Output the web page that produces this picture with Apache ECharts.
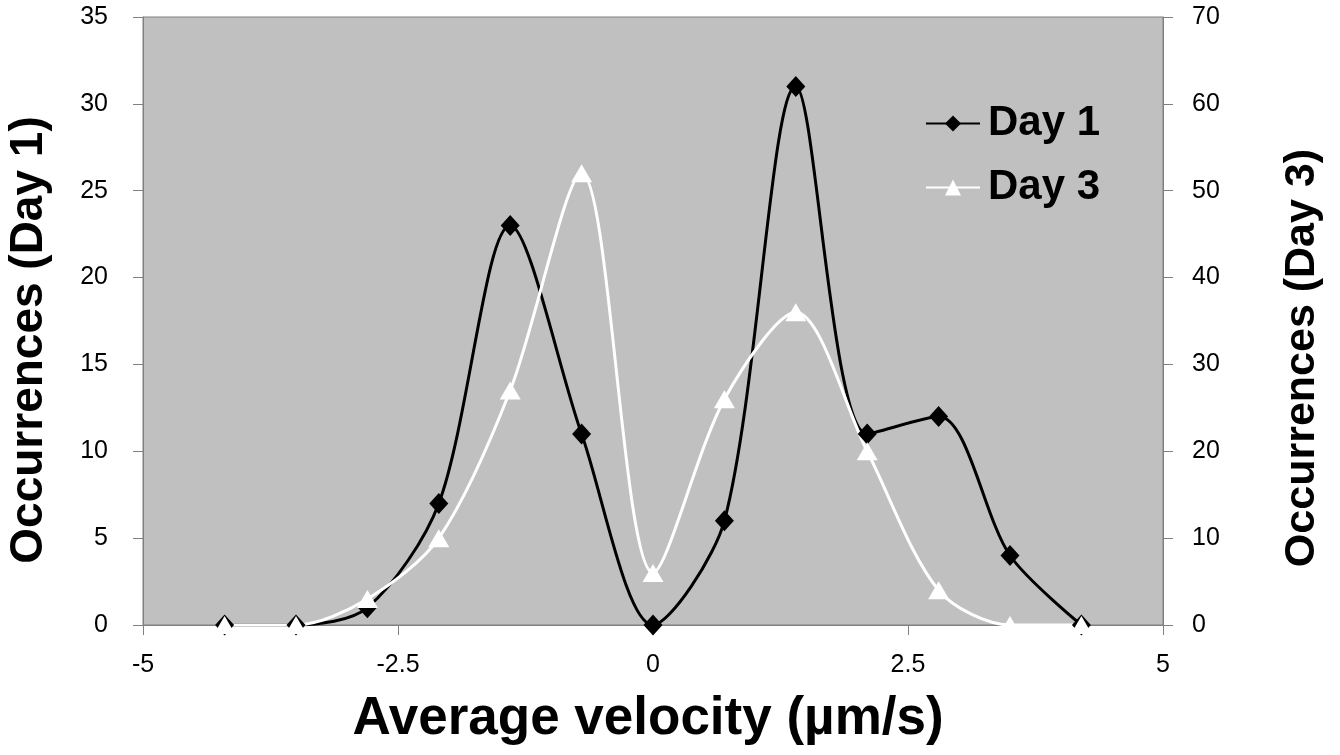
<!DOCTYPE html>
<html><head><meta charset="utf-8">
<script src="https://cdn.jsdelivr.net/npm/echarts@6/dist/echarts.min.js"></script>
<style>html,body{margin:0;padding:0;background:#fff}#c{width:1340px;height:755px}</style>
</head><body><div id="c"></div>
<script>
const velocities = [-4.2, -3.5, -2.8, -2.1, -1.4, -0.7, 0, 0.7, 1.4, 2.1, 2.8, 3.5, 4.2];
const day1 = [0, 0, 1, 7, 23, 11, 0, 6, 31, 11, 12, 4, 0];
const day3 = [0, 0, 3, 10, 27, 52, 6, 26, 36, 20, 4, 0, 0];
const xTicks = [-5, -2.5, 0, 2.5, 5];
const xTitle = 'Average velocity (µm/s)';
const yLeftTitle = 'Occurrences (Day 1)';
const yRightTitle = 'Occurrences (Day 3)';

const font = 'Liberation Sans, Arial, sans-serif';
const chart = echarts.init(document.getElementById('c'));
const tickStyle = { show: true, length: 10, lineStyle: { color: '#808080', width: 1 } };
chart.setOption({
  animation: false,
  backgroundColor: '#fff',
  grid: { left: 143, right: 177, top: 17, bottom: 130, show: true, backgroundColor: '#c0c0c0', borderColor: '#808080', borderWidth: 1 },
  legend: {
    orient: 'vertical', left: 920, top: 96, itemWidth: 54, itemHeight: 20, itemGap: 19,
    textStyle: { fontFamily: font, fontWeight: 'bold', fontSize: 42, color: '#000', lineHeight: 45, padding: [0, 0, 0, 3] },
    data: ['Day 1', 'Day 3']
  },
  graphic: [
    { type: 'text', x: 29, y: 340, rotation: Math.PI / 2,
      style: { text: yLeftTitle, font: 'bold 46px ' + font, fill: '#000', align: 'center', verticalAlign: 'middle' } },
    { type: 'text', x: 1302, y: 358, rotation: Math.PI / 2,
      style: { text: yRightTitle, font: 'bold 43px ' + font, fill: '#000', align: 'center', verticalAlign: 'middle' } },
    { type: 'text', x: 648, y: 719,
      style: { text: xTitle, font: 'bold 53px ' + font, fill: '#000', align: 'center', verticalAlign: 'middle' } }
  ],
  xAxis: {
    type: 'value', min: -5, max: 5, interval: 2.5,
    axisLine: { onZero: false, lineStyle: { color: '#808080', width: 1 } },
    axisTick: tickStyle,
    axisLabel: { fontFamily: font, fontSize: 25, color: '#000', margin: 28,
      formatter: v => xTicks.includes(v) ? String(v) : '' },
    splitLine: { show: false }
  },
  yAxis: [{
    type: 'value', min: 0, max: 35, interval: 5, position: 'left',
    axisLine: { show: true, onZero: false, lineStyle: { color: '#808080' } },
    axisTick: tickStyle,
    axisLabel: { fontFamily: font, fontSize: 25, color: '#000', margin: 35 },
    splitLine: { show: false }
  }, {
    type: 'value', min: 0, max: 70, interval: 10, position: 'right',
    axisLine: { show: true, onZero: false, lineStyle: { color: '#808080' } },
    axisTick: tickStyle,
    axisLabel: { fontFamily: font, fontSize: 25, color: '#000', margin: 29 },
    splitLine: { show: false }
  }],
  series: [{
    name: 'Day 1', type: 'line', yAxisIndex: 0, smooth: 0.3,
    data: velocities.map((v, i) => [v, day1[i]]),
    symbol: 'diamond', symbolSize: [19, 21],
    lineStyle: { color: '#000', width: 3 },
    itemStyle: { color: '#000', borderWidth: 0 }
  }, {
    name: 'Day 3', type: 'line', yAxisIndex: 1, smooth: 0.3,
    data: velocities.map((v, i) => [v, day3[i]]),
    symbol: 'triangle', symbolSize: [21, 18],
    lineStyle: { color: '#fff', width: 3 },
    itemStyle: { color: '#fff', borderWidth: 0 }
  }]
});
</script></body></html>
